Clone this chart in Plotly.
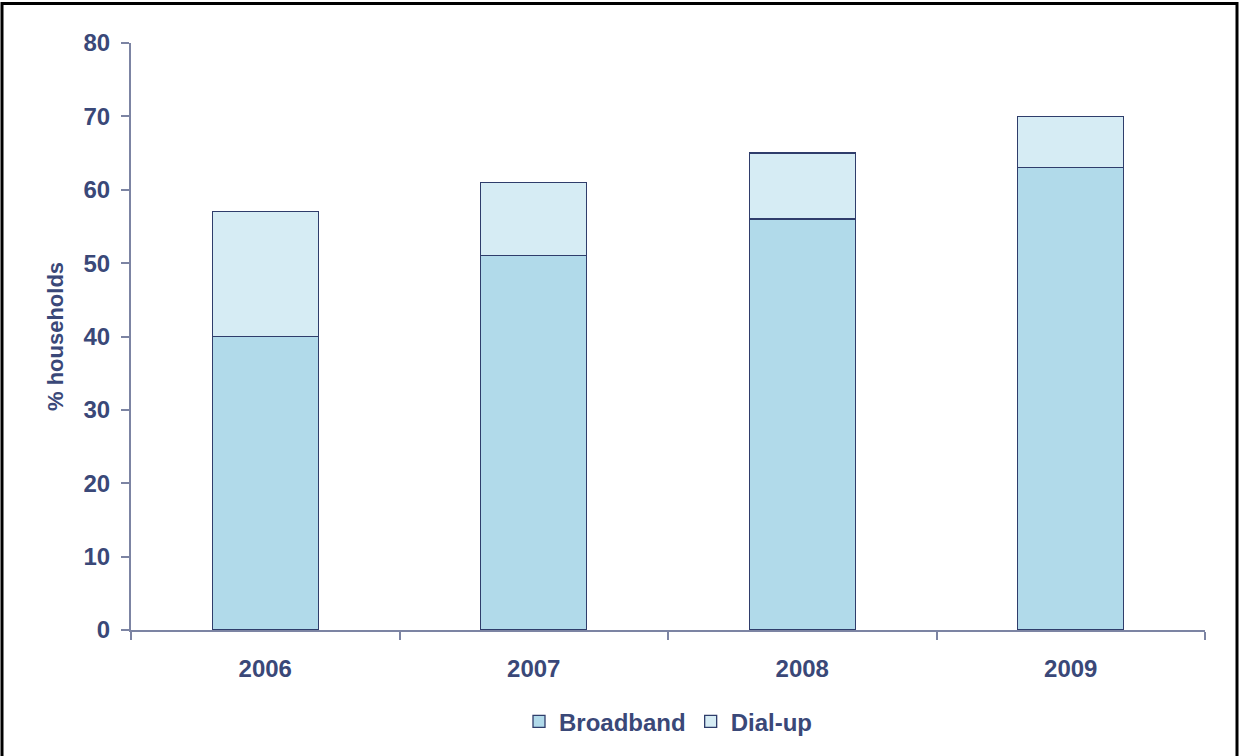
import plotly.graph_objects as go

years = ["2006", "2007", "2008", "2009"]
broadband = [40, 51, 56, 63]
dialup = [17, 10, 9, 7]

text_color = "#3A4878"
axis_color = "#7C84A3"
edge_color = "#2F3D6B"
font_family = "Liberation Sans, Arial, sans-serif"

fig = go.Figure()
fig.add_trace(go.Bar(
    x=years, y=broadband, name="Broadband",
    marker=dict(color="#B1DAEA", line=dict(color=edge_color, width=1.3)),
))
fig.add_trace(go.Bar(
    x=years, y=dialup, name="Dial-up",
    marker=dict(color="#D6ECF4", line=dict(color=edge_color, width=1.3)),
))

W, H = 1240, 756
L, R, T, B = 131, 35, 43, 118
pw, ph = W - L - R, H - T - B

def px_x(x):
    return (x - L) / pw

def px_y(y):
    return (H - B - y) / ph

fig.update_layout(
    width=W, height=H,
    barmode="stack",
    bargap=0.605,
    margin=dict(l=L, r=R, t=T, b=B),
    paper_bgcolor="white",
    plot_bgcolor="white",
    font=dict(family=font_family, color=text_color, size=24, weight="bold"),
    showlegend=True,
    legend=dict(
        orientation="h", x=0.5, xanchor="center", y=px_y(731), yanchor="middle",
        font=dict(size=24, color=text_color, family=font_family, weight="bold"),
        traceorder="normal", itemwidth=30,
    ),
    xaxis=dict(
        showline=True, linecolor=axis_color, linewidth=2,
        ticks="outside", tickson="boundaries", ticklen=8, tickcolor=axis_color, tickwidth=2,
        showgrid=False, zeroline=False, ticklabelstandoff=16,
        tickfont=dict(size=24, color=text_color, family=font_family, weight="bold"),
    ),
    yaxis=dict(
        range=[0, 80], dtick=10,
        showline=True, linecolor=axis_color, linewidth=2,
        ticks="outside", ticklen=8, tickcolor=axis_color, tickwidth=2,
        showgrid=False, zeroline=False, ticklabelstandoff=6,
        tickfont=dict(size=24, color=text_color, family=font_family, weight="bold"),
        title=dict(text="% households", standoff=14,
                   font=dict(size=22, color=text_color, family=font_family, weight="bold")),
    ),
    shapes=[dict(
        type="rect", xref="paper", yref="paper",
        x0=px_x(2), x1=px_x(1237), y0=px_y(800), y1=px_y(3),
        line=dict(color="black", width=3), fillcolor="rgba(0,0,0,0)", layer="above",
    )],
)

fig.write_html("out.html")
